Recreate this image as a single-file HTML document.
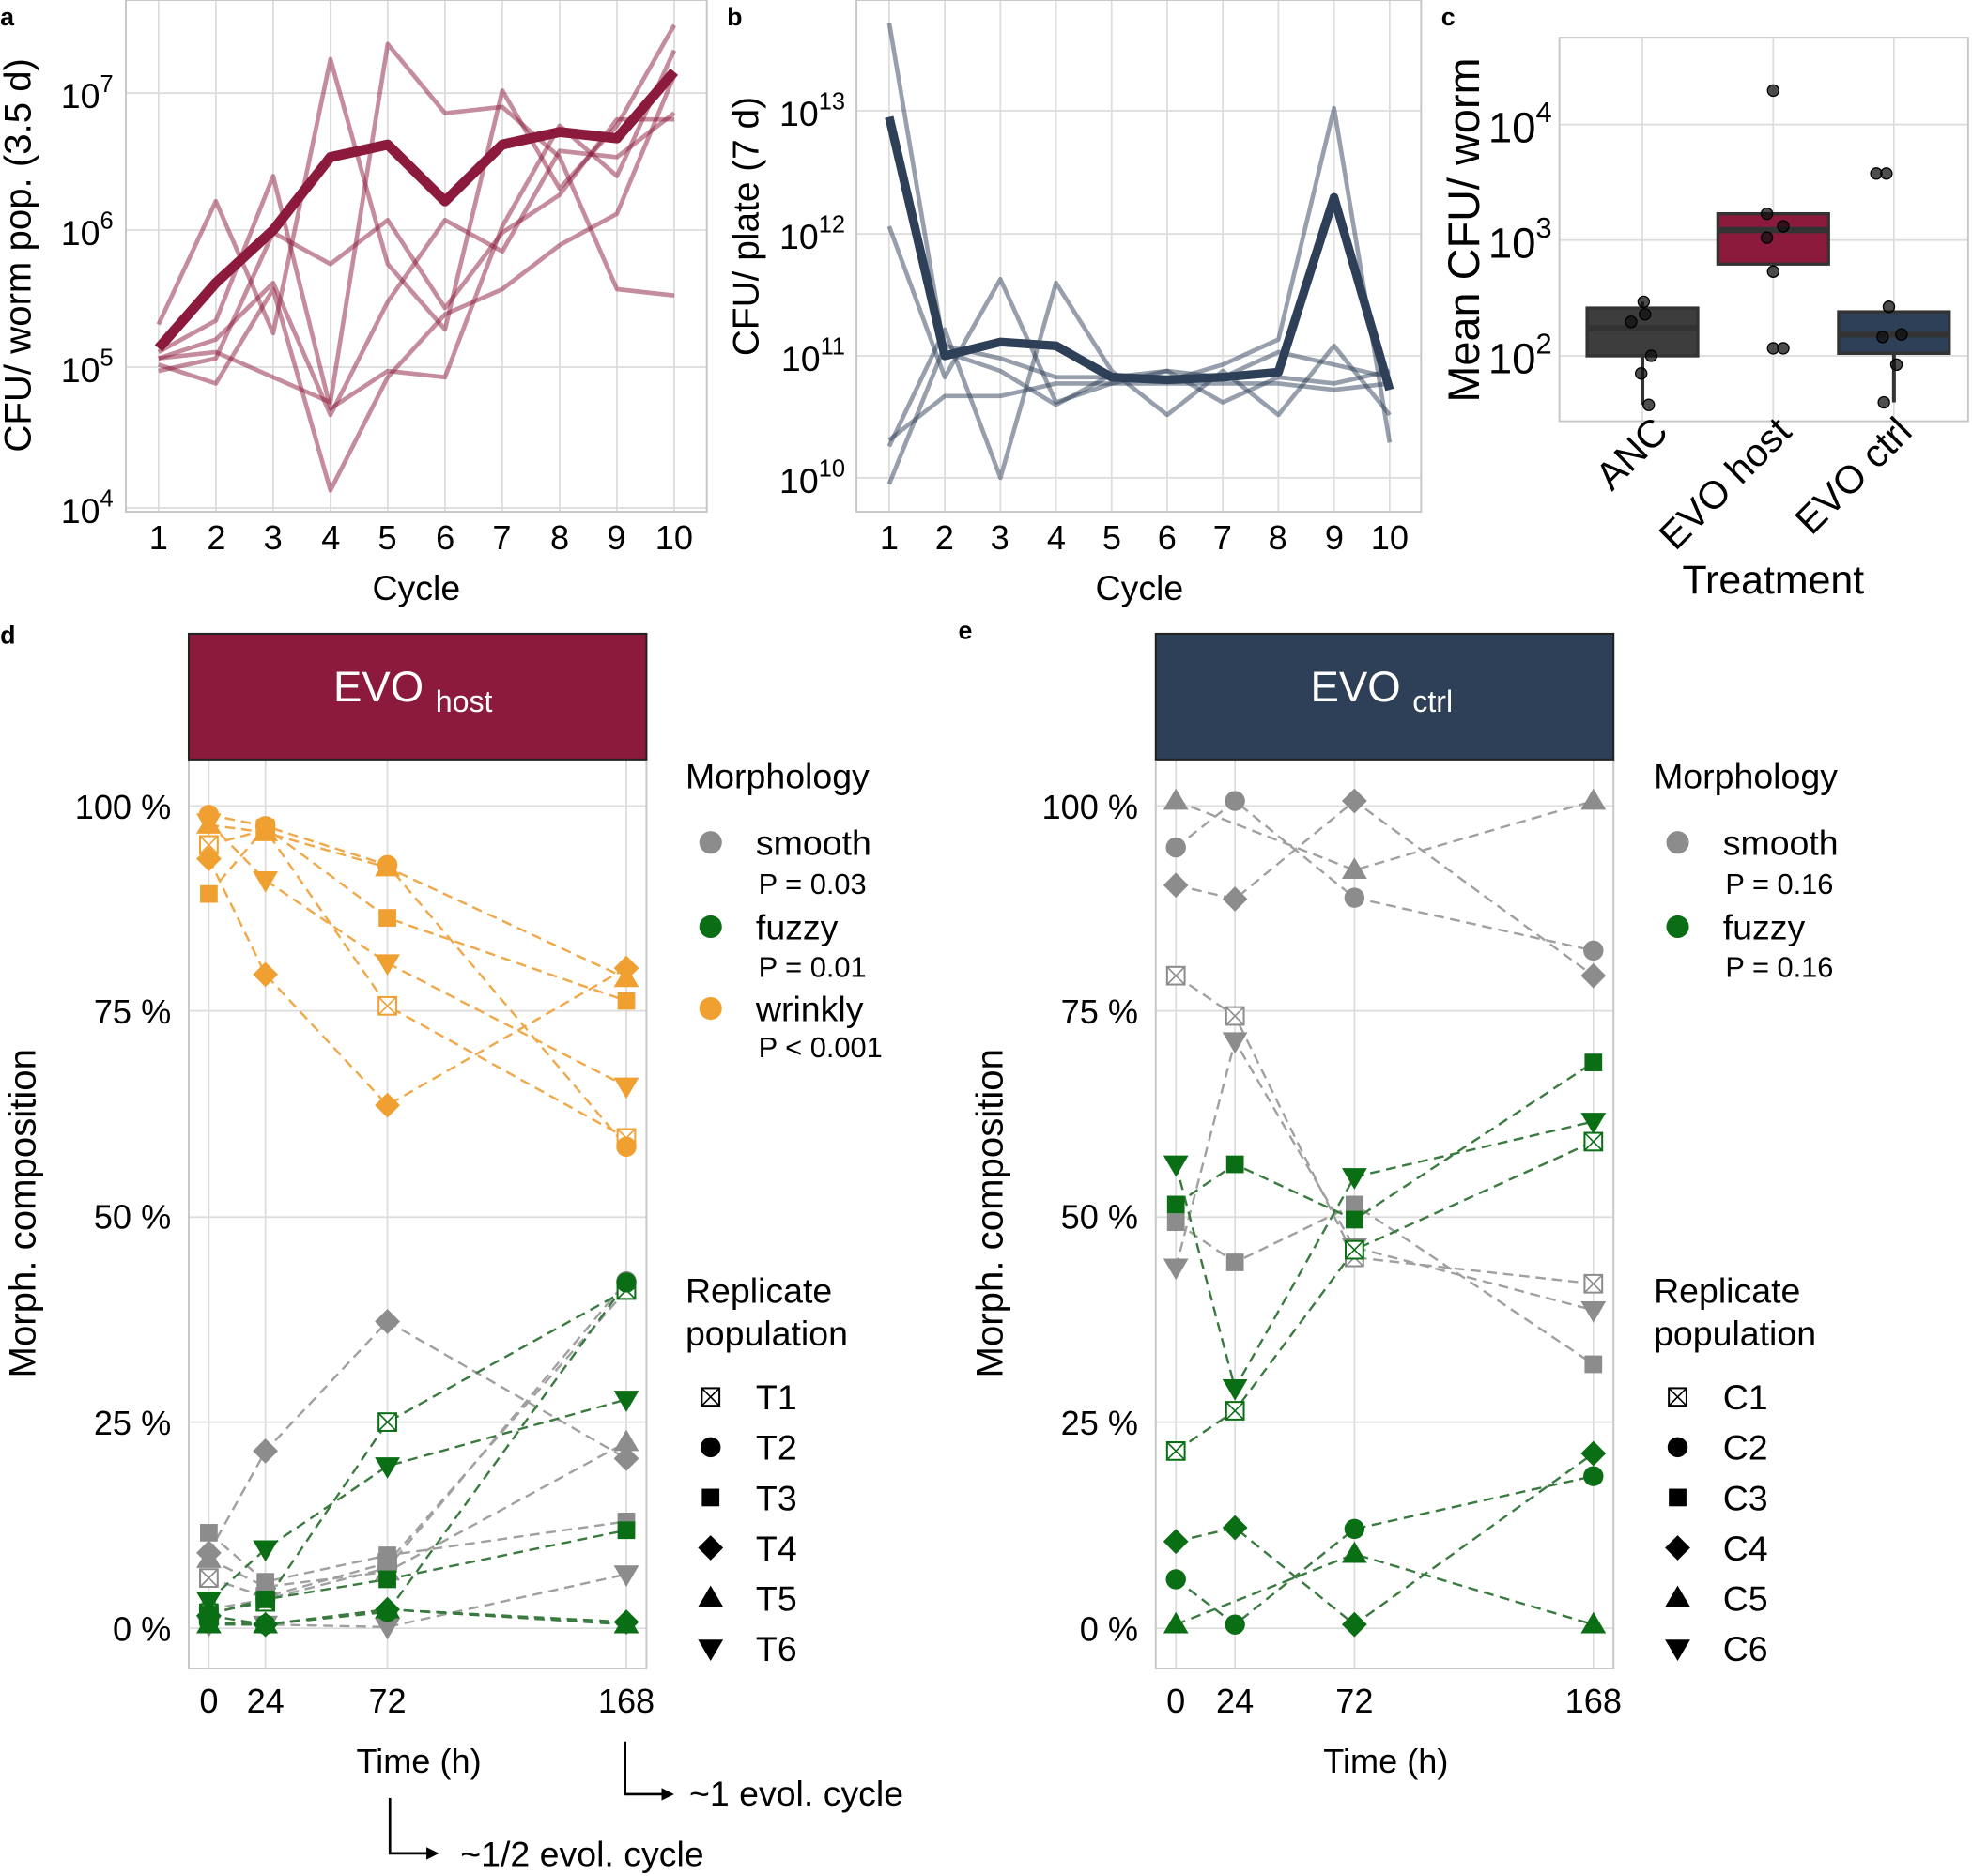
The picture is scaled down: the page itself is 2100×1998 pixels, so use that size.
<!DOCTYPE html>
<html><head><meta charset="utf-8"><style>
html,body{margin:0;padding:0;background:#fff}
svg{display:block}
text{font-family:"Liberation Sans",Arial,sans-serif;fill:#000}
</style></head><body>
<svg id="s" width="2100" height="1998" viewBox="0 0 1568 1492" xmlns="http://www.w3.org/2000/svg">
<rect width="1568" height="1492" fill="#fff"/>
<g id="grid" stroke="#dcdcdc" stroke-width="1.3" fill="none"></g>
<g id="lines"></g>
<g id="marks"></g>
<g fill="none" stroke="#c8c8c8" stroke-width="1.5">
<rect x="100" y="0" width="462" height="407"/>
<rect x="681" y="0" width="449" height="407"/>
<rect x="1240" y="30" width="325" height="305"/>
<rect x="150" y="604" width="364" height="723"/>
<rect x="919" y="604" width="364" height="723"/>
</g>
<g font-weight="bold" font-size="20">
<text x="0" y="20">a</text><text x="578" y="20">b</text><text x="1146" y="20">c</text>
<text x="0" y="512">d</text><text x="762" y="508">e</text>
</g>
<g font-size="28" text-anchor="end">
<text x="90" y="86">10<tspan font-size="19" dy="-13">7</tspan></text>
<text x="90" y="195">10<tspan font-size="19" dy="-13">6</tspan></text>
<text x="90" y="304">10<tspan font-size="19" dy="-13">5</tspan></text>
<text x="90" y="416">10<tspan font-size="19" dy="-13">4</tspan></text>
</g>
<text x="331" y="477" font-size="28" text-anchor="middle">Cycle</text>
<text transform="translate(24,203) rotate(-90)" font-size="30" text-anchor="middle">CFU/ worm pop. (3.5 d)</text>
<g font-size="28" text-anchor="end">
<text x="672" y="100">10<tspan font-size="19" dy="-13">13</tspan></text>
<text x="672" y="198">10<tspan font-size="19" dy="-13">12</tspan></text>
<text x="672" y="295">10<tspan font-size="19" dy="-13">11</tspan></text>
<text x="672" y="392">10<tspan font-size="19" dy="-13">10</tspan></text>
</g>
<text x="906" y="477" font-size="28" text-anchor="middle">Cycle</text>
<text transform="translate(603,180) rotate(-90)" font-size="29" text-anchor="middle">CFU/ plate (7 d)</text>
<g font-size="34" text-anchor="end">
<text x="1234" y="113">10<tspan font-size="23" dy="-16">4</tspan></text>
<text x="1234" y="205">10<tspan font-size="23" dy="-16">3</tspan></text>
<text x="1234" y="297">10<tspan font-size="23" dy="-16">2</tspan></text>
</g>
<text transform="translate(1176,183) rotate(-90)" font-size="35" text-anchor="middle">Mean CFU/ worm</text>
<g font-size="31" text-anchor="end">
<text transform="translate(1328,345) rotate(-45)">ANC</text>
<text transform="translate(1426,345) rotate(-45)">EVO host</text>
<text transform="translate(1522,345) rotate(-45)">EVO ctrl</text>
</g>
<text x="1410" y="472" font-size="32" text-anchor="middle">Treatment</text>
<rect x="150" y="504" width="364" height="100" fill="#8b1a3c" stroke="#222" stroke-width="1.5"/>
<text x="265" y="558" font-size="34" style="fill:#fff">EVO <tspan font-size="24" dy="8" style="fill:#fff">host</tspan></text>
<rect x="919" y="504" width="364" height="100" fill="#2e3f58" stroke="#222" stroke-width="1.5"/>
<text x="1042" y="558" font-size="34" style="fill:#fff">EVO <tspan font-size="24" dy="8" style="fill:#fff">ctrl</tspan></text>
<g font-size="27" text-anchor="end">
<text x="136" y="651">100 %</text><text x="136" y="814">75 %</text><text x="136" y="977">50 %</text><text x="136" y="1141">25 %</text><text x="136" y="1305">0 %</text>
<text x="905" y="651">100 %</text><text x="905" y="814">75 %</text><text x="905" y="977">50 %</text><text x="905" y="1141">25 %</text><text x="905" y="1305">0 %</text>
</g>
<g font-size="27" text-anchor="middle">
<text x="166" y="1362">0</text><text x="211" y="1362">24</text><text x="308" y="1362">72</text><text x="498" y="1362">168</text>
<text x="935" y="1362">0</text><text x="982" y="1362">24</text><text x="1077" y="1362">72</text><text x="1267" y="1362">168</text>
<text x="333" y="1410">Time (h)</text><text x="1102" y="1410">Time (h)</text>
</g>
<text transform="translate(28,965) rotate(-90)" font-size="30" text-anchor="middle">Morph. composition</text>
<text transform="translate(797,965) rotate(-90)" font-size="30" text-anchor="middle">Morph. composition</text>
<g stroke="#000" stroke-width="2" fill="none">
<path d="M497,1385 V1427 H528"/><path d="M310,1430 V1474 H341"/>
</g>
<path d="M536,1427 l-10,-5 v10z M349,1474 l-10,-5 v10z" fill="#000"/>
<text x="548" y="1436" font-size="28">~1 evol. cycle</text>
<text x="366" y="1484" font-size="28">~1/2 evol. cycle</text>
<g font-size="28">
<text x="545" y="627">Morphology</text>
<text x="601" y="680">smooth</text><text x="603" y="711" font-size="23">P = 0.03</text>
<text x="601" y="747">fuzzy</text><text x="603" y="777" font-size="23">P = 0.01</text>
<text x="601" y="812">wrinkly</text><text x="603" y="841" font-size="23">P &lt; 0.001</text>
<text x="545" y="1036">Replicate</text><text x="545" y="1070">population</text>
<text x="601" y="1121">T1</text><text x="601" y="1161">T2</text><text x="601" y="1201">T3</text><text x="601" y="1241">T4</text><text x="601" y="1281">T5</text><text x="601" y="1321">T6</text>
<text x="1315" y="627">Morphology</text>
<text x="1370" y="680">smooth</text><text x="1372" y="711" font-size="23">P = 0.16</text>
<text x="1370" y="747">fuzzy</text><text x="1372" y="777" font-size="23">P = 0.16</text>
<text x="1315" y="1036">Replicate</text><text x="1315" y="1070">population</text>
<text x="1370" y="1121">C1</text><text x="1370" y="1161">C2</text><text x="1370" y="1201">C3</text><text x="1370" y="1241">C4</text><text x="1370" y="1281">C5</text><text x="1370" y="1321">C6</text>
</g>
<g font-size="27" text-anchor="middle">
<text x="126" y="437">1</text><text x="172" y="437">2</text><text x="217" y="437">3</text><text x="263" y="437">4</text><text x="308" y="437">5</text><text x="354" y="437">6</text><text x="399" y="437">7</text><text x="445" y="437">8</text><text x="490" y="437">9</text><text x="536" y="437">10</text>
<text x="707" y="437">1</text><text x="751" y="437">2</text><text x="795" y="437">3</text><text x="840" y="437">4</text><text x="884" y="437">5</text><text x="928" y="437">6</text><text x="972" y="437">7</text><text x="1016" y="437">8</text><text x="1061" y="437">9</text><text x="1105" y="437">10</text>
</g>
</svg>
<script>
var NS="http://www.w3.org/2000/svg";
function el(p,t,a){var e=document.createElementNS(NS,t);for(var k in a)e.setAttribute(k,a[k]);document.getElementById(p).appendChild(e);return e;}
function hl(x1,x2,y){el("grid","line",{x1:x1,x2:x2,y1:y,y2:y});}
function vl(x,y1,y2){el("grid","line",{x1:x,x2:x,y1:y1,y2:y2});}
var ax=[],bx=[];for(var i=0;i<10;i++){ax.push(126+i*45.56);bx.push(707+i*44.22);}
ax.forEach(function(x){vl(x,0,407);});[74,183,292,404].forEach(function(y){hl(100,562,y);});
bx.forEach(function(x){vl(x,0,407);});[88,186,283,380].forEach(function(y){hl(681,1130,y);});
[1306,1410,1506].forEach(function(x){vl(x,30,335);});[99,191,283].forEach(function(y){hl(1240,1565,y);});
[166,211,308,498].forEach(function(x){vl(x,604,1327);});[935,982,1077,1267].forEach(function(x){vl(x,604,1327);});
[641,804,968,1131,1295].forEach(function(y){hl(150,514,y);hl(919,1283,y);});
function poly(xs,ys,st){var p=xs.map(function(x,i){return x+","+ys[i];}).join(" ");var a={points:p,fill:"none","stroke-linejoin":"round"};for(var k in st)a[k]=st[k];el("lines","polyline",a);}
var A=[[258,160,265,47,210,262,72,150,100,20],[290,305,230,390,300,250,230,195,170,60],[280,255,140,325,295,300,180,100,140,40],[295,285,185,210,175,245,185,155,95,95],[285,280,300,320,35,90,85,125,230,235],[285,270,225,330,240,175,200,120,125,90]];
A.forEach(function(y){poly(ax,y,{stroke:"#8b1a3c","stroke-opacity":0.5,"stroke-width":3.5});});
poly(ax,[277,225,183,125,115,160,115,105,110,57],{stroke:"#8b1a3c","stroke-width":8});
var B=[[18,280,295,322,298,303,290,270,86,352],[180,300,222,320,305,295,300,280,290,300],[355,262,380,225,295,330,295,330,275,330],[385,275,285,300,300,295,320,300,305,295],[350,315,315,305,305,305,305,305,310,305]];
B.forEach(function(y){poly(bx,y,{stroke:"#2e3f58","stroke-opacity":0.5,"stroke-width":3.5});});
poly(bx,[93,283,272,275,300,302,300,296,157,310],{stroke:"#2e3f58","stroke-width":7});
function box(cx,y1,y2,med,wl,wh,col){
 el("lines","line",{x1:cx,x2:cx,y1:wh,y2:wl,stroke:"#333","stroke-width":3});
 el("lines","rect",{x:cx-44,y:y1,width:88,height:y2-y1,fill:col,stroke:"#333","stroke-width":2.5});
 el("lines","line",{x1:cx-44,x2:cx+44,y1:med,y2:med,stroke:"#333","stroke-width":5});}
box(1306,245,283,261,322,240,"#3d3d3d");box(1410,170,210,183,210,170,"#8b1a3c");box(1506,248,281,266,320,248,"#2e3f58");
[[1307,240],[1308,250],[1297,256],[1313,283],[1305,297],[1311,322],[1410,72],[1405,170],[1418,180],[1405,189],[1410,216],[1410,277],[1418,277],[1492,138],[1500,138],[1502,244],[1497,268],[1512,266],[1508,290],[1498,320]].forEach(function(p){
 el("marks","circle",{cx:p[0],cy:p[1],r:4.5,fill:"#111","fill-opacity":0.75,stroke:"#000","stroke-width":1});});
function mk(shape,x,y,col,g){g=g||"marks";
 if(shape==0){el(g,"rect",{x:x-7,y:y-7,width:14,height:14,fill:"#fff",stroke:col,"stroke-width":1.5});
  el(g,"path",{d:"M"+(x-7)+","+(y-7)+"L"+(x+7)+","+(y+7)+"M"+(x+7)+","+(y-7)+"L"+(x-7)+","+(y+7),stroke:col,"stroke-width":1.2,fill:"none"});}
 else if(shape==1)el(g,"circle",{cx:x,cy:y,r:8,fill:col});
 else if(shape==2)el(g,"rect",{x:x-7,y:y-7,width:14,height:14,fill:col});
 else if(shape==3)el(g,"path",{d:"M"+x+","+(y-10)+"l10,10l-10,10l-10,-10z",fill:col});
 else if(shape==4)el(g,"path",{d:"M"+x+","+(y-10)+"l10,17h-20z",fill:col});
 else el(g,"path",{d:"M"+x+","+(y+10)+"l10,-17h-20z",fill:col});}
var OR="#f0a030",GR="#0a6e14",GY="#8c8c8c";
function series(xs,data,col,lc){data.forEach(function(ys,i){var px=[],py=[];ys.forEach(function(y,j){if(y!=null){px.push(xs[j]);py.push(y);}});
 poly(px,py,{stroke:lc,"stroke-width":1.8,"stroke-dasharray":"8,5"});px.forEach(function(x,j){mk(i,x,py[j],col);});});}
var dx=[166,211,308,498],ex=[935,982,1077,1267];
series(dx,[[672,660,800,905],[648,657,688,912],[711,658,730,796],[683,775,879,770],[656,662,690,778],[654,700,766,864]],OR,"#f0a848");
series(dx,[[1255,1270,1243,1026],[1280,1272,1247,1019],[1219,1258,1237,1210],[1235,1154,1051,1160],[1240,1262,1250,1147],[1292,1292,1294,1252]],GY,"#a0a0a0");
series(dx,[[1283,1274,1131,1026],[1290,1292,1282,1020],[1284,1272,1256,1217],[1285,1292,1280,1290],[1292,1292,1280,1292],[1273,1232,1166,1113]],GR,"#3a7a40");
series(ex,[[776,808,1000,1021],[674,637,714,756],[972,1004,958,1085],[704,715,637,776],[637,null,692,637],[1008,828,992,1042]],GY,"#a0a0a0");
series(ex,[[1154,1122,994,908],[1256,1292,1216,1174],[958,926,970,845],[1226,1215,1292,1156],[1292,null,1236,1292],[926,1104,936,892]],GR,"#3a7a40");
[[565,670,GY],[565,737,GR],[565,802,OR],[1334,670,GY],[1334,737,GR]].forEach(function(p){el("marks","circle",{cx:p[0],cy:p[1],r:9,fill:p[2]});});
for(var i=0;i<6;i++){mk(i,565,1111+i*40,"#000");mk(i,1334,1111+i*40,"#000");}
</script>
</body></html>
